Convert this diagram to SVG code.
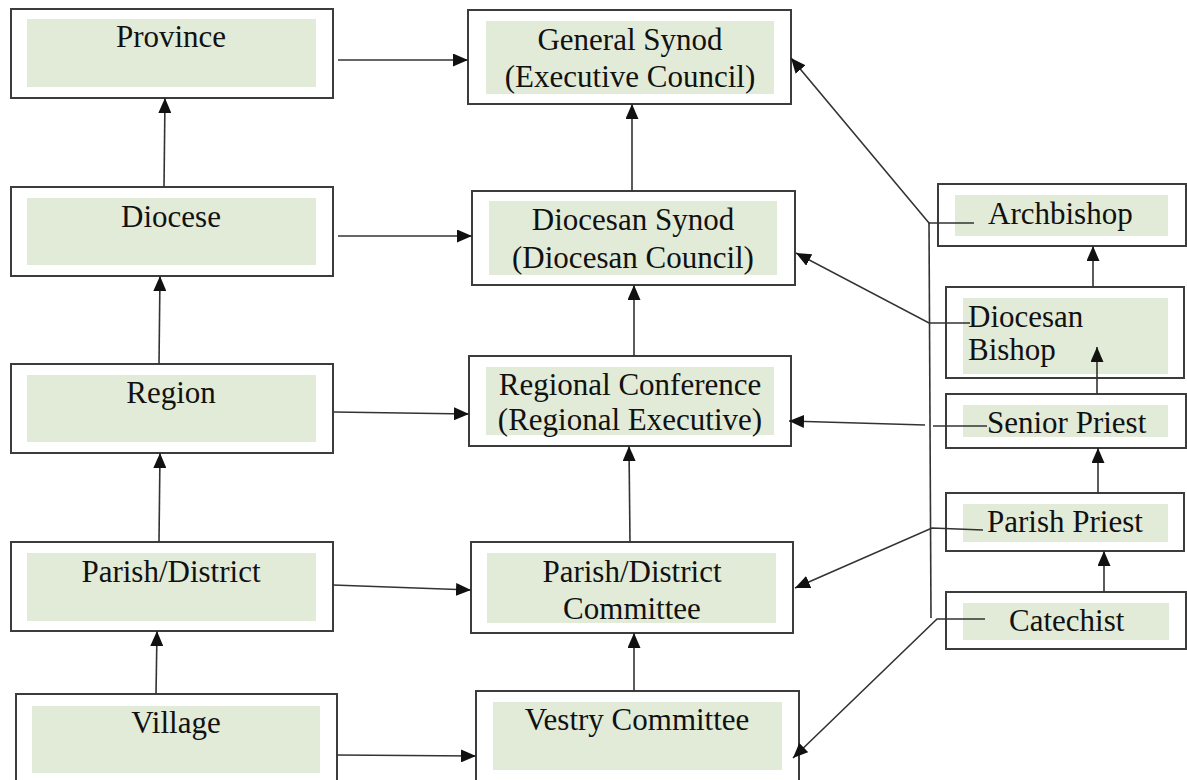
<svg xmlns="http://www.w3.org/2000/svg" width="1187" height="780" viewBox="0 0 1187 780">
<style>
.box{fill:#ffffff;stroke:#3c3c3c;stroke-width:2}
.fill{fill:#e2ebd8}
.t{font-family:"Liberation Serif","Times New Roman",serif;font-size:31px;fill:#111}
.c{text-anchor:middle}
.ln{fill:none;stroke:#333;stroke-width:1.6}
</style>
<defs>
<marker id="ah" markerUnits="userSpaceOnUse" markerWidth="15" markerHeight="13" refX="15" refY="6.5" orient="auto">
<path d="M0,0 L15,6.5 L0,13 z" fill="#111"/>
</marker>
</defs>
<rect width="1187" height="780" fill="#ffffff"/>

<g id="province"><rect class="box" x="11" y="9" width="322" height="89"/><rect class="fill" x="27" y="19" width="289" height="68"/><text class="t c" x="171" y="47">Province</text></g>
<g id="diocese"><rect class="box" x="11" y="187" width="322" height="89"/><rect class="fill" x="27" y="198" width="289" height="67"/><text class="t c" x="171" y="227">Diocese</text></g>
<g id="region"><rect class="box" x="11" y="364" width="322" height="89"/><rect class="fill" x="27" y="375" width="289" height="67"/><text class="t c" x="171" y="403">Region</text></g>
<g id="parish-district"><rect class="box" x="11" y="542" width="322" height="89"/><rect class="fill" x="27" y="553" width="289" height="68"/><text class="t c" x="171" y="582">Parish/District</text></g>
<g id="village"><rect class="box" x="16" y="694" width="321" height="100"/><rect class="fill" x="32" y="706" width="288" height="67"/><text class="t c" x="176" y="733">Village</text></g>

<g id="general-synod"><rect class="box" x="468" y="10" width="323" height="94"/><rect class="fill" x="486" y="21" width="288" height="73"/><text class="t c" x="630" y="50">General Synod</text><text class="t c" x="630" y="87">(Executive Council)</text></g>
<g id="diocesan-synod"><rect class="box" x="472" y="191" width="323" height="94"/><rect class="fill" x="489" y="201" width="288" height="74"/><text class="t c" x="633" y="230">Diocesan Synod</text><text class="t c" x="633" y="268">(Diocesan Council)</text></g>
<g id="regional-conference"><rect class="box" x="469" y="356" width="322" height="90"/><rect class="fill" x="486" y="367" width="288" height="68"/><text class="t c" x="630" y="395">Regional Conference</text><text class="t c" x="630" y="430">(Regional Executive)</text></g>
<g id="parish-district-committee"><rect class="box" x="471" y="542" width="322" height="91"/><rect class="fill" x="487" y="553" width="289" height="70"/><text class="t c" x="632" y="582">Parish/District</text><text class="t c" x="632" y="619">Committee</text></g>
<g id="vestry-committee"><rect class="box" x="476" y="691" width="323" height="100"/><rect class="fill" x="493" y="702" width="289" height="68"/><text class="t c" x="637" y="730">Vestry Committee</text></g>

<g id="archbishop"><rect class="box" x="938" y="184" width="248" height="62"/><rect class="fill" x="955" y="195" width="213" height="41"/><text class="t" x="988" y="224">Archbishop</text></g>
<g id="diocesan-bishop"><rect class="box" x="946" y="287" width="238" height="91"/><rect class="fill" x="963" y="298" width="205" height="76"/><text class="t" x="968" y="327">Diocesan</text><text class="t" x="968" y="360">Bishop</text></g>
<g id="senior-priest"><rect class="box" x="946" y="394" width="240" height="54"/><rect class="fill" x="963" y="405" width="205" height="32"/><text class="t" x="987" y="433">Senior Priest</text></g>
<g id="parish-priest"><rect class="box" x="946" y="493" width="238" height="58"/><rect class="fill" x="963" y="504" width="205" height="38"/><text class="t" x="987" y="532">Parish Priest</text></g>
<g id="catechist"><rect class="box" x="946" y="592" width="240" height="57"/><rect class="fill" x="963" y="603" width="206" height="37"/><text class="t" x="1009" y="631">Catechist</text></g>

<g id="connectors">
<line class="ln" x1="338" y1="60" x2="468" y2="60" marker-end="url(#ah)"/>
<line class="ln" x1="338" y1="236" x2="472" y2="236" marker-end="url(#ah)"/>
<line class="ln" x1="334" y1="412" x2="469" y2="414" marker-end="url(#ah)"/>
<line class="ln" x1="333" y1="585" x2="471" y2="590" marker-end="url(#ah)"/>
<line class="ln" x1="337" y1="755" x2="476" y2="756" marker-end="url(#ah)"/>
<line class="ln" x1="164" y1="187" x2="165" y2="98" marker-end="url(#ah)"/>
<line class="ln" x1="159" y1="364" x2="160" y2="276" marker-end="url(#ah)"/>
<line class="ln" x1="159" y1="542" x2="160" y2="453" marker-end="url(#ah)"/>
<line class="ln" x1="156" y1="694" x2="157" y2="631" marker-end="url(#ah)"/>
<line class="ln" x1="632" y1="191" x2="632" y2="104" marker-end="url(#ah)"/>
<line class="ln" x1="634" y1="356" x2="634" y2="285" marker-end="url(#ah)"/>
<line class="ln" x1="630" y1="542" x2="629" y2="446" marker-end="url(#ah)"/>
<line class="ln" x1="634" y1="691" x2="634" y2="633" marker-end="url(#ah)"/>
<line class="ln" x1="1093" y1="287" x2="1093" y2="246" marker-end="url(#ah)"/>
<line class="ln" x1="1097" y1="394" x2="1097" y2="347" marker-end="url(#ah)"/>
<line class="ln" x1="1098" y1="493" x2="1098" y2="448" marker-end="url(#ah)"/>
<line class="ln" x1="1104" y1="592" x2="1104" y2="551" marker-end="url(#ah)"/>
<line class="ln" x1="929" y1="222" x2="931" y2="618"/>
<polyline class="ln" points="974,223 929,223 791,58" marker-end="url(#ah)"/>
<polyline class="ln" points="970,323 929,323 796,253" marker-end="url(#ah)"/>
<line class="ln" x1="987" y1="426" x2="933" y2="426"/>
<line class="ln" x1="925" y1="425" x2="789" y2="421" marker-end="url(#ah)"/>
<polyline class="ln" points="983,530 932,528 795,588" marker-end="url(#ah)"/>
<polyline class="ln" points="985,619 937,619 793,758" marker-end="url(#ah)"/>
</g>
</svg>
